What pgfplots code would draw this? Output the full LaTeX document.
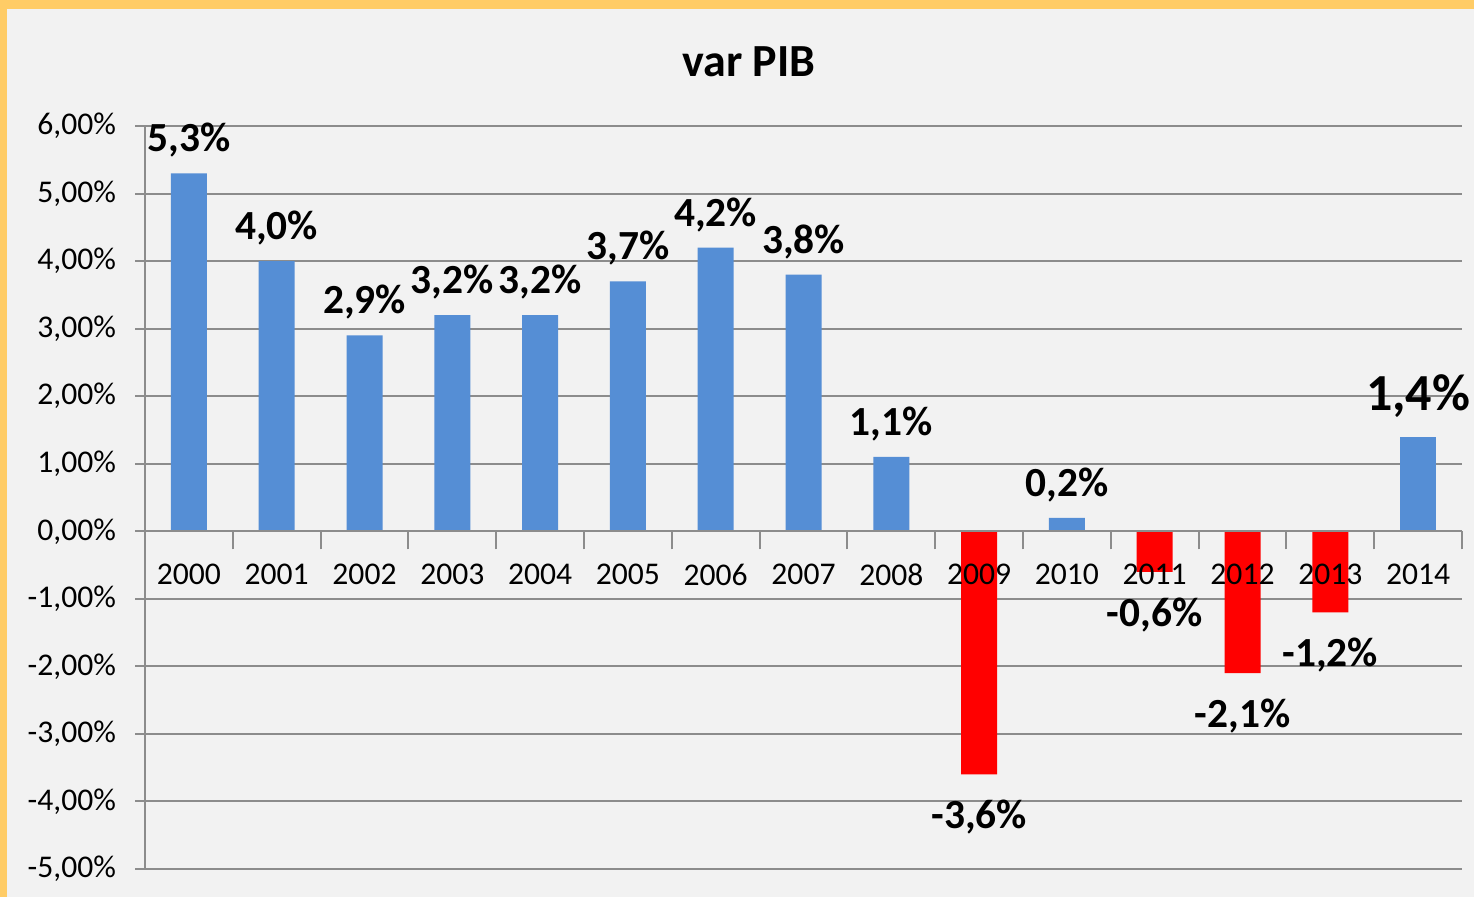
\documentclass[border=0pt]{standalone}
\usepackage{pgfplots}
\pgfplotsset{compat=1.18}
\usepackage{fontspec}
\setmainfont{Carlito}
\definecolor{bg}{HTML}{F2F2F2}
\definecolor{frameor}{HTML}{FFCC66}
\definecolor{gridc}{HTML}{8C8C8C}
\definecolor{barblue}{HTML}{558ED5}
\definecolor{barred}{HTML}{FF0000}
\pgfplotsset{layers/mylayers/.define layer set={axis background,axis grid,pre main,main,axis ticks,axis lines,axis tick labels,axis descriptions,axis foreground}{
  grid style={/pgfplots/on layer=axis grid},
  tick style={/pgfplots/on layer=axis ticks},
  axis line style={/pgfplots/on layer=axis lines},
  label style={/pgfplots/on layer=axis descriptions},
  title style={/pgfplots/on layer=axis descriptions},
  ticklabel style={/pgfplots/on layer=axis tick labels},
  axis background@ style={/pgfplots/on layer=axis background},
}}
\begin{document}
\begin{tikzpicture}
\begin{axis}[
  set layers=mylayers,
  at={(72.5pt,14pt)}, anchor=south west,
  scale only axis, width=658.5pt, height=371.5pt,
  xmin=-0.5, xmax=14.5, ymin=-5, ymax=6,
  axis x line=middle, axis y line=left,
  axis line style={gridc, line width=1pt, -},
  /pgf/number format/assume math mode=true,
  ytick={-5,-4,...,6},
  ymajorgrids, grid style={gridc, line width=1pt},
  y tick style={gridc, line width=1pt},
  tick align=outside, major tick length=5pt,
  yticklabel={\pgfmathprintnumber[fixed,fixed zerofill,precision=2,use comma]{\tick}\%},
  yticklabel style={font=\fontsize{15.8}{19}\selectfont, xshift=-6pt},
  xtick={0,...,14},
  xticklabels={2000,2001,2002,2003,2004,2005,2006,2007,2008,2009,2010,2011,2012,2013,2014},
  x tick style={draw=none},
  xticklabel style={font=\fontsize{15.8}{19}\selectfont, yshift=-8pt},
  extra x ticks={0.5,1.5,...,14.5},
  extra x tick labels={},
  extra x tick style={x tick style={draw=gridc, line width=1pt}, major tick length=9pt, tick align=outside},
  clip=false,
]
\begin{pgfonlayer}{axis background}
\fill[bg] ([shift={(-72.5pt,-14pt)}]rel axis cs:0,0) rectangle ([shift={(664.5pt,434.5pt)}]rel axis cs:0,0);
\fill[frameor] ([shift={(-72.5pt,-14pt)}]rel axis cs:0,0) rectangle ([shift={(-69pt,434.5pt)}]rel axis cs:0,0);
\fill[frameor] ([shift={(-72.5pt,430pt)}]rel axis cs:0,0) rectangle ([shift={(664.5pt,434.5pt)}]rel axis cs:0,0);
\end{pgfonlayer}
\addplot[ybar, bar width=18pt, bar shift=0pt, fill=barblue, draw=none,
  point meta=y,
  nodes near coords={\pgfmathprintnumber[fixed,fixed zerofill,precision=1,use comma]{\pgfplotspointmeta}\%},
  every node near coord/.append style={anchor=center, yshift=16.5pt, font=\bfseries\fontsize{20.7}{24}\selectfont}]
  coordinates {(0,5.3) (1,4.0) (2,2.9) (3,3.2) (4,3.2) (5,3.7) (6,4.2) (7,3.8) (8,1.1) (10,0.2)};
\addplot[ybar, bar width=18pt, bar shift=0pt, fill=barblue, draw=none,
  point meta=y,
  nodes near coords={\pgfmathprintnumber[fixed,fixed zerofill,precision=1,use comma]{\pgfplotspointmeta}\%},
  every node near coord/.append style={anchor=center, yshift=20.5pt, font=\bfseries\fontsize{26}{30}\selectfont}]
  coordinates {(14,1.4)};
\addplot[ybar, bar width=18pt, bar shift=0pt, fill=barred, draw=none,
  point meta=y,
  nodes near coords={\pgfmathprintnumber[fixed,fixed zerofill,precision=1,use comma]{\pgfplotspointmeta}\%},
  every node near coord/.append style={anchor=center, yshift=-21.5pt, font=\bfseries\fontsize{20.7}{24}\selectfont}]
  coordinates {(9,-3.6) (11,-0.6) (12,-2.1) (13,-1.2)};
\end{axis}
\node[font=\bfseries\fontsize{23}{27}\selectfont] at (374.5pt,417.5pt) {var PIB};
\pgfresetboundingbox
\path (0,0) rectangle (737pt,448.5pt);
\end{tikzpicture}
\end{document}
